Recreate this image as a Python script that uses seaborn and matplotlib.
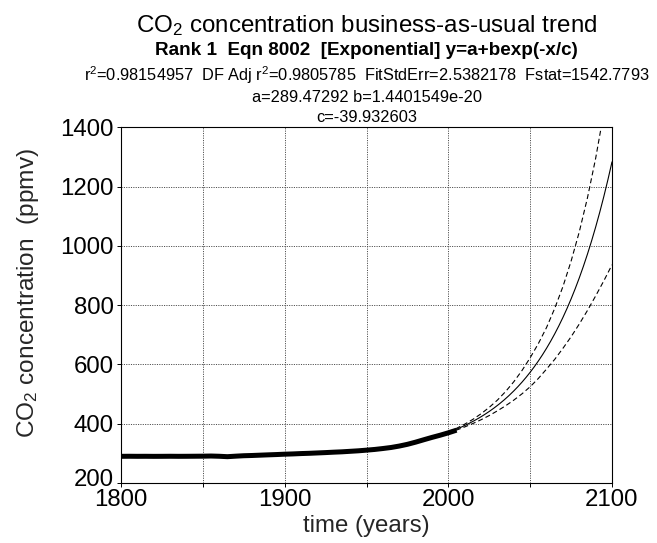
import numpy as np
import matplotlib
matplotlib.use("Agg")
import matplotlib.pyplot as plt
import matplotlib.transforms as mtransforms
import seaborn as sns

# ---- data ----
obs_years = list(range(1800, 2006, 5))
obs_co2 = [290.0, 290.2, 290.0, 290.1, 289.9, 290.0, 290.2, 290.0, 290.1, 290.3,
           290.5, 291.0, 290.2, 288.8, 290.5, 292.0, 292.8, 293.9, 295.0, 296.0,
           297.2, 298.1, 299.3, 300.2, 301.4, 302.6, 304.0, 305.2, 306.9, 308.6,
           310.8, 313.2, 316.3, 319.8, 324.6, 330.5, 337.8, 345.9, 353.8, 361.2,
           369.3, 378.2]

band_years = list(range(2000, 2101, 5))
band_upper = [372.3, 384.5, 398.5, 414.7, 433.6, 455.2, 479.7, 508.6, 541.6, 579.4,
              622.5, 670.3, 724.5, 789.1, 862.4, 948.3, 1047.1, 1162.0, 1295.0, 1450.0,
              1630.0]
band_lower = [369.1, 378.5, 389.1, 400.7, 413.4, 427.6, 443.5, 460.6, 479.6, 500.8,
              524.7, 552.7, 584.3, 617.1, 654.2, 693.3, 736.3, 782.0, 831.0, 882.0,
              936.0]

# fitted equation printed on the chart: y = a + b*exp(-x/c)
fit_a = 289.47292
fit_b = 1.4401549e-20
fit_c = -39.932603

x_ticks = [1800, 1850, 1900, 1950, 2000, 2050, 2100]
x_tick_labels = ["1800", "", "1900", "", "2000", "", "2100"]
y_ticks = [200, 400, 600, 800, 1000, 1200, 1400]
y_tick_labels = ["200", "400", "600", "800", "1000", "1200", "1400"]

title_lines = [
    "CO$_\\mathregular{2}$ concentration business-as-usual trend",
    "Rank 1  Eqn 8002  [Exponential] y=a+bexp(-x/c)",
    "r$^\\mathregular{2}$=0.98154957  DF Adj r$^\\mathregular{2}$=0.9805785  FitStdErr=2.5382178  Fstat=1542.7793",
    "a=289.47292 b=1.4401549e-20",
    "c=-39.932603",
]

# ---- style ----
sns.set_style("ticks")
plt.rcParams.update({
    "font.family": ["Liberation Sans", "DejaVu Sans"],
    "mathtext.fontset": "custom",
    "mathtext.rm": "Liberation Sans",
    "mathtext.it": "Liberation Sans:italic",
    "mathtext.bf": "Liberation Sans:bold",
    "lines.scale_dashes": False,
    "axes.edgecolor": "black",
    "axes.linewidth": 0.8,
})

W, H = 657, 543
fig = plt.figure(figsize=(W / 100, H / 100), dpi=100)
fig.patch.set_facecolor("white")
ax_l, ax_r, ax_t, ax_b = 121, 612, 127.3, 483
ax = fig.add_axes([ax_l / W, 1 - ax_b / H, (ax_r - ax_l) / W, (ax_b - ax_t) / H])
ax.set_facecolor("white")

fit_x = np.linspace(1800, 2100, 601)
fit_y = fit_a + fit_b * np.exp(-fit_x / fit_c)

sns.lineplot(x=obs_years, y=obs_co2, ax=ax, color="black", linewidth=3.6,
             estimator=None, sort=False, solid_capstyle="butt", zorder=4)
sns.lineplot(x=fit_x, y=fit_y, ax=ax, color="black", linewidth=0.8,
             estimator=None, sort=False, zorder=3)
sns.lineplot(x=band_years, y=band_upper, ax=ax, color="black", linewidth=0.8,
             linestyle=(0, (3.6, 2.2)), estimator=None, sort=False, zorder=3)
sns.lineplot(x=band_years, y=band_lower, ax=ax, color="black", linewidth=0.8,
             linestyle=(0, (3.6, 2.2)), estimator=None, sort=False, zorder=3)

ax.set_xlim(1800, 2100)
ax.set_ylim(200, 1400)
ax.set_xticks(x_ticks)
ax.set_xticklabels(x_tick_labels)
ax.set_yticks(y_ticks)
ax.set_yticklabels(y_tick_labels)
ax.grid(True, color="0.3", linestyle=(0, (0.8, 0.9)), linewidth=0.7, zorder=1)
ax.set_axisbelow(True)
for s in ax.spines.values():
    s.set_visible(True)
    s.set_color("black")
    s.set_linewidth(0.8)
ax.tick_params(axis="both", direction="out", length=2.9, width=0.7,
               labelsize=17.3, colors="black", top=False, right=False)
ax.tick_params(axis="x", pad=1.2)
ax.tick_params(axis="y", pad=2.2)

ax.set_xlabel("time (years)", fontsize=17.3)
ax.set_ylabel("CO$_\\mathregular{2}$ concentration  (ppmv)", fontsize=17.6)
ax.xaxis.set_label_coords(0.5, (ax_b - 515) / (ax_b - ax_t))
ax.yaxis.set_label_coords((41 - ax_l) / (ax_r - ax_l), (ax_b - 293) / (ax_b - ax_t))

# shift the bottom "200" label up a little, as in the reference
lbl = ax.get_yticklabels()[0]
lbl.set_transform(lbl.get_transform() +
                  mtransforms.ScaledTranslation(0, 0.05, fig.dpi_scale_trans))

cx = (ax_l + ax_r) / 2 / W
specs = [(31.7, 17.4, "normal"), (55, 13.6, "bold"), (81, 11.8, "normal"),
         (102, 11.8, "normal"), (121.5, 11.8, "normal")]
for text, (yb, fs, fw) in zip(title_lines, specs):
    fig.text(cx, 1 - yb / H, text, ha="center", va="baseline",
             fontsize=fs, fontweight=fw, color="black")

fig.savefig("out.png", dpi=100, facecolor="white")
